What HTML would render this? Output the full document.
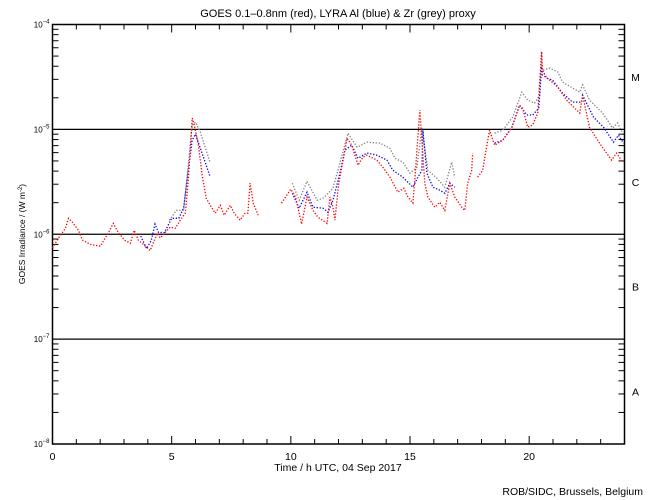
<!DOCTYPE html>
<html><head><meta charset="utf-8"><style>
html,body{margin:0;padding:0;background:#fff;}
svg{display:block;font-family:"Liberation Sans",sans-serif;}
</style></head><body>
<svg id="chart" width="650" height="500" viewBox="0 0 650 500">
<rect width="650" height="500" fill="#fff"/>
<text x="338" y="17" font-size="11" text-anchor="middle">GOES 0.1–0.8nm (red), LYRA Al (blue) &amp; Zr (grey) proxy</text>
<g id="axes"></g>
<g id="series"></g>
<text x="338" y="471" font-size="10.5" text-anchor="middle">Time / h UTC, 04 Sep 2017</text>
<text transform="translate(25,234) rotate(-90)" font-size="8.5" text-anchor="middle">GOES Irradiance / (W m<tspan dy="-3" font-size="6">-2</tspan><tspan dy="3">)</tspan></text>
<text x="643" y="495" font-size="10.5" text-anchor="end">ROB/SIDC, Brussels, Belgium</text>
</svg>
<script>
const xTicks=[0,5,10,15,20];
const yDecades=[-8,-7,-6,-5,-4];
const classLabels=['A','B','C','M'];
const redT=[0,0.25,0.54,0.67,0.84,1.09,1.26,1.59,2.01,2.35,2.55,2.76,3.02,3.27,3.43,3.6,3.9,4.1,4.19,4.4,4.52,4.73,4.94,5.15,5.36,5.57,5.7,5.78,5.86,5.95,6.12,6.28,6.45,6.62,6.83,7.04,7.2,7.46,7.62,7.87,8.08,8.2,8.29,8.42,8.63,null,9.61,10.0,10.2,10.45,10.68,10.93,11.14,11.52,11.64,11.77,11.85,12.0,12.36,12.56,12.82,13.02,13.19,13.61,13.86,14.16,14.49,14.74,14.91,15.12,15.2,15.41,15.62,15.75,16.04,16.25,16.46,16.67,16.88,17.17,17.3,17.42,17.59,17.63,null,17.84,18.05,18.21,18.34,18.55,18.89,19.27,19.6,19.73,19.94,20.15,20.36,20.52,20.56,20.86,21.2,21.57,22.12,22.24,22.53,22.95,23.46,23.67,23.92];
const redV=[0.74,0.92,1.14,1.42,1.3,1.09,0.88,0.8,0.77,1.04,1.27,1.04,0.88,0.82,1.09,0.88,0.77,0.7,0.79,1.02,0.92,1.04,1.17,1.14,1.36,1.59,3.28,6.3,12.8,11.0,7.1,3.66,2.2,1.89,1.59,1.89,1.52,1.89,1.59,1.36,1.59,1.59,3.07,1.98,1.52,null,1.98,2.69,2.26,1.25,2.26,1.69,1.45,1.27,2.26,1.81,1.36,2.94,8.25,7.07,4.55,5.43,5.67,5.09,4.36,3.5,2.52,2.75,2.26,1.98,3.28,15.3,3.07,2.26,1.81,2.02,1.69,3.07,2.26,1.81,1.69,3.07,4.08,5.94,null,3.5,4.08,6.76,9.8,7.07,7.89,10.3,17.0,15.9,10.5,11.0,14.3,55,33,29.5,25.3,19.0,14.3,21.2,10.5,7.4,5.09,5.94,4.87];
const blueT=[3.7,3.95,4.15,4.3,4.45,4.7,5.0,5.3,5.5,5.7,5.86,6.0,6.2,6.45,6.62,null,10.06,10.35,10.68,10.93,11.35,11.56,11.77,12.06,12.27,12.56,12.82,13.19,13.61,14.03,14.28,14.7,15.12,15.33,15.5,15.54,15.71,15.96,16.25,16.46,16.67,16.88,null,18.55,18.89,19.27,19.6,19.9,20.15,20.4,20.52,20.73,20.98,21.4,21.82,22.2,22.24,22.7,23.12,23.54,23.75,23.96];
const blueV=[0.96,0.73,0.88,1.25,1.04,1.04,1.42,1.42,1.77,4.08,7.89,9.0,6.6,4.55,3.5,null,2.46,1.77,2.52,1.81,1.77,1.62,2.11,3.82,6.33,7.07,5.3,5.94,5.67,5.09,4.08,3.5,2.81,3.5,4.08,9.8,3.82,2.81,2.63,2.46,3.07,2.81,null,7.4,7.89,10.5,17.0,13.7,13.7,15.9,38,30.8,29.5,22.2,18.2,18.2,21.2,13.1,10.5,7.55,8.8,7.4];
const greyT=[4.9,5.2,5.5,5.7,5.86,6.0,6.2,6.45,6.62,null,10.06,10.35,10.68,11.1,11.35,11.56,11.77,12.06,12.4,12.78,13.19,13.74,14.16,14.37,14.7,15.0,15.29,15.5,15.75,16.13,16.46,16.75,16.88,null,18.55,18.89,19.31,19.69,19.94,20.23,20.44,20.52,20.56,20.86,21.2,21.4,22.12,22.24,22.53,23.08,23.5,23.71,23.92];
const greyV=[1.36,1.69,1.69,4.55,11.0,11.7,9.4,6.3,4.77,null,3.07,2.11,3.2,2.11,2.21,2.46,2.75,4.77,9.2,6.76,7.55,7.4,6.6,5.3,4.87,3.82,4.36,10.5,4.08,3.42,2.81,4.87,3.5,null,9.2,9.8,13.1,22.6,19.0,17.8,21.2,55,36.8,38.4,35.2,28.3,22.6,26.5,19.0,14.3,10.3,11.5,9.2];

const NS='http://www.w3.org/2000/svg';
const L=52.5,R=624.5,T=24.5,B=444;
function xs(h){return L+(R-L)*h/24;}
function ys(logv){return B-(B-T)*(logv+8)/4;}
function yv(micro){return ys(Math.log10(micro*1e-6));}
function mk(tag,attrs,parent){const e=document.createElementNS(NS,tag);for(const k in attrs)e.setAttribute(k,attrs[k]);parent.appendChild(e);return e;}
const ax=document.getElementById('axes');
const frame=mk('rect',{x:L,y:T,width:R-L,height:B-T,fill:'none',stroke:'#000','stroke-width':1.5},ax);


for(let h=0;h<=24;h++){
  const len=(h%5===0)?8:5;
  const x=xs(h);
  const t1=mk('line',{x1:x,x2:x,y1:B,y2:B-len,stroke:'#000','stroke-width':1},ax);
  
  
  const t2=mk('line',{x1:x,x2:x,y1:T,y2:T+len,stroke:'#000','stroke-width':1},ax);
  
  
}
xTicks.forEach(h=>{
  const t=mk('text',{x:xs(h),y:B+16,'font-size':10.5,'text-anchor':'middle'},ax);
  t.textContent=h;
  
  
});
yDecades.forEach((d,i)=>{
  const y=ys(d);
  const lb=mk('text',{x:L-3,y:y+3,'font-size':8,'text-anchor':'end'},ax);
  lb.textContent='10';
  const sp=mk('tspan',{dy:-4,'font-size':6},lb);
  sp.textContent='\u2212'+(-d);
  
  
  if(d>-8&&d<-4){
    const gl=mk('line',{x1:L,x2:R,y1:y,y2:y,stroke:'#000','stroke-width':1.3},ax);
    
    
  }
  if(d<-4){
    for(let m=2;m<=9;m++){
      const yy=ys(d+Math.log10(m));
      const a=mk('line',{x1:L,x2:L+6,y1:yy,y2:yy,stroke:'#000','stroke-width':1},ax);
      
      
      const b=mk('line',{x1:R,x2:R-6,y1:yy,y2:yy,stroke:'#000','stroke-width':1},ax);
      
      
    }
  }
});
classLabels.forEach((c,i)=>{
  const t=mk('text',{x:R+11,y:(ys(-8+i)+ys(-7+i))/2+4,'font-size':10.5,'text-anchor':'middle'},ax);
  t.textContent=c;
  
  
});
const sg=document.getElementById('series');
function draw(ts,vs,color,name){
  let d='',pen=false;
  for(let i=0;i<ts.length;i++){
    if(ts[i]===null){pen=false;continue;}
    d+=(pen?'L':'M')+xs(ts[i]).toFixed(1)+','+yv(vs[i]).toFixed(1);
    pen=true;
  }
  const p=mk('path',{d:d,fill:'none',stroke:color,'stroke-width':1.3,'stroke-dasharray':'1.3 1.7'},sg);
  
  
}
draw(greyT,greyV,'#808080','lyra-zr-series');
draw(blueT,blueV,'#0000ff','lyra-al-series');
draw(redT,redV,'#ff0000','goes-series');
</script>
</body></html>
